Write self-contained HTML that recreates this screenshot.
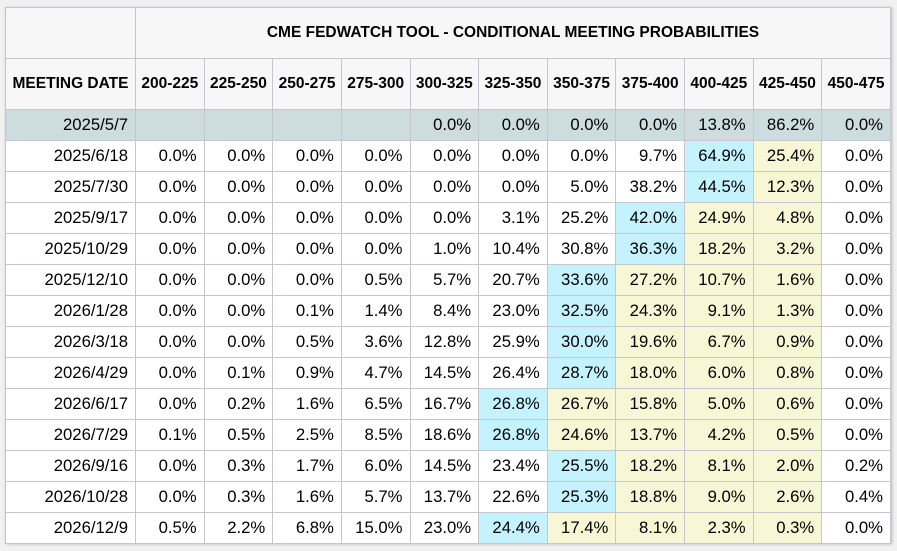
<!DOCTYPE html>
<html><head><meta charset="utf-8">
<style>
html,body{margin:0;padding:0;background:#f1f1f1;width:897px;height:551px;overflow:hidden;font-family:"Liberation Sans",Arial,sans-serif;}
#wrap{position:absolute;left:5px;top:7px;width:886px;height:536px;background:#fff;box-shadow:1px 1px 3px rgba(0,0,0,0.25);}
table{border-collapse:collapse;table-layout:fixed;width:886px;}
td,th{border:1px solid #c6c6cf;padding:0 7px 0 0;text-align:right;font-size:16.7px;color:#000;height:31px;box-sizing:border-box;overflow:hidden;white-space:nowrap;}
th{background:#f7f7f7;font-weight:bold;font-size:15.5px;text-align:center;padding:0;}
tr{height:31px;}
tr.h1,tr.h2{height:51px;}
tr.h1 th,tr.h2 th{height:51px;}
tr.cur td{background:#cddcdf;}
td.max{background:#c4f2ff;}
td.hi{background:#f7f7d6;}
</style></head><body>
<div id="wrap">
<table id="t">
<colgroup><col style="width:130px"></colgroup>
<tr class="h1"><th></th><th colspan="11">CME FEDWATCH TOOL - CONDITIONAL MEETING PROBABILITIES</th></tr>
</table>
</div>
<script>
const ranges=["200-225","225-250","250-275","275-300","300-325","325-350","350-375","375-400","400-425","425-450","450-475"];
const dates=["2025/5/7","2025/6/18","2025/7/30","2025/9/17","2025/10/29","2025/12/10","2026/1/28","2026/3/18","2026/4/29","2026/6/17","2026/7/29","2026/9/16","2026/10/28","2026/12/9"];
const probs=[
[null,null,null,null,0.0,0.0,0.0,0.0,13.8,86.2,0.0],
[0.0,0.0,0.0,0.0,0.0,0.0,0.0,9.7,64.9,25.4,0.0],
[0.0,0.0,0.0,0.0,0.0,0.0,5.0,38.2,44.5,12.3,0.0],
[0.0,0.0,0.0,0.0,0.0,3.1,25.2,42.0,24.9,4.8,0.0],
[0.0,0.0,0.0,0.0,1.0,10.4,30.8,36.3,18.2,3.2,0.0],
[0.0,0.0,0.0,0.5,5.7,20.7,33.6,27.2,10.7,1.6,0.0],
[0.0,0.0,0.1,1.4,8.4,23.0,32.5,24.3,9.1,1.3,0.0],
[0.0,0.0,0.5,3.6,12.8,25.9,30.0,19.6,6.7,0.9,0.0],
[0.0,0.1,0.9,4.7,14.5,26.4,28.7,18.0,6.0,0.8,0.0],
[0.0,0.2,1.6,6.5,16.7,26.8,26.7,15.8,5.0,0.6,0.0],
[0.1,0.5,2.5,8.5,18.6,26.8,24.6,13.7,4.2,0.5,0.0],
[0.0,0.3,1.7,6.0,14.5,23.4,25.5,18.2,8.1,2.0,0.2],
[0.0,0.3,1.6,5.7,13.7,22.6,25.3,18.8,9.0,2.6,0.4],
[0.5,2.2,6.8,15.0,23.0,24.4,17.4,8.1,2.3,0.3,0.0]];
const t=document.getElementById('t');
const hr=document.createElement('tr');hr.className='h2';


const th0=document.createElement('th');th0.textContent='MEETING DATE';


hr.appendChild(th0);
ranges.forEach(r=>{const th=document.createElement('th');th.textContent=r;


hr.appendChild(th);});
t.appendChild(hr);
dates.forEach((d,i)=>{
 const tr=document.createElement('tr');if(i===0)tr.className='cur';
 
 
 const td=document.createElement('td');td.textContent=d;
 
 
 tr.appendChild(td);
 const row=probs[i];let mx=-1,mi=-1;
 row.forEach((v,j)=>{if(v!==null&&v>mx){mx=v;mi=j;}});
 row.forEach((v,j)=>{
  const c=document.createElement('td');
  c.textContent=v===null?'':v.toFixed(1)+'%';
  if(i>0){if(j===mi)c.className='max';else if(j>mi&&j<ranges.length-1)c.className='hi';}
  
  
  tr.appendChild(c);
 });
 t.appendChild(tr);
});
</script>
</body></html>
